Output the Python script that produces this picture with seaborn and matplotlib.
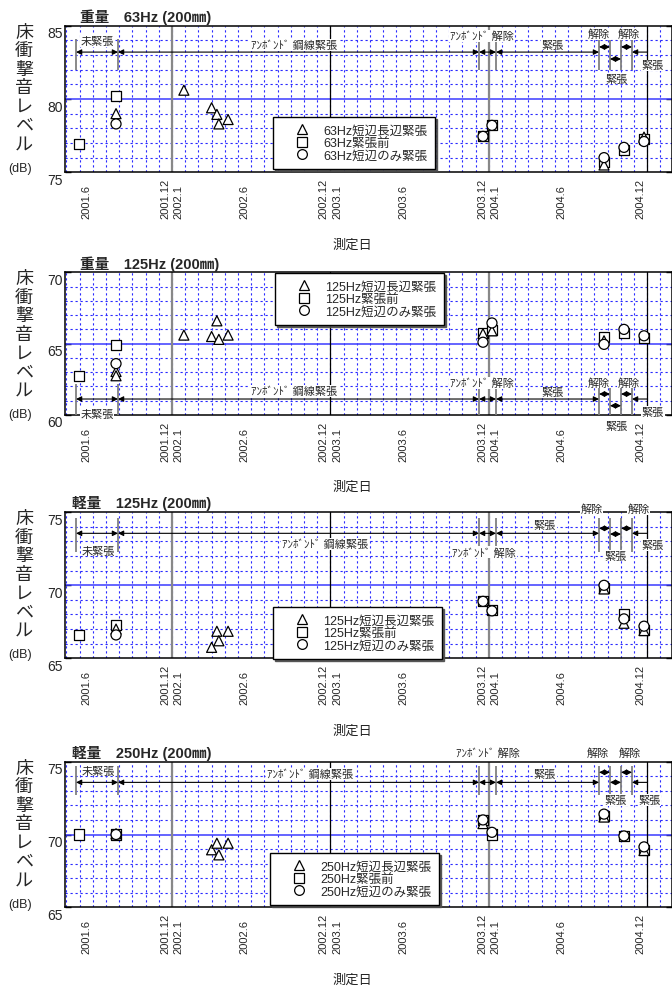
import pandas as pd
import seaborn as sns
import matplotlib.pyplot as plt
from matplotlib.lines import Line2D
from matplotlib.transforms import ScaledTranslation

# 測定日は 2001.1 からの月数 (12 = 2002.1, 24 = 2003.1 ...)
# 重量 63Hz
h63_sq_date = [4.95, 7.76, 35.56, 36.24, 44.73, 46.24, 47.76]
h63_sq_db = [76.9, 80.2, 77.45, 78.25, 75.7, 76.5, 77.3]
h63_tri_date = [7.76, 12.9, 15.0, 15.4, 15.55, 16.25, 44.73, 47.76]
h63_tri_db = [79.0, 80.6, 79.4, 78.95, 78.3, 78.6, 75.5, 77.4]
h63_cir_date = [7.76, 35.56, 36.24, 44.73, 46.24, 47.76]
h63_cir_db = [78.3, 77.45, 78.2, 76.0, 76.7, 77.1]

# 重量 125Hz
h125_sq_date = [4.95, 7.76, 35.56, 36.24, 44.73, 46.24, 47.76]
h125_sq_db = [62.7, 64.9, 65.75, 65.95, 65.45, 65.75, 65.4]
h125_tri_date = [7.76, 7.76, 12.9, 15.0, 15.4, 15.55, 16.25, 35.56, 36.24, 44.73]
h125_tri_db = [63.05, 62.75, 65.6, 65.5, 66.6, 65.3, 65.6, 65.7, 65.9, 65.2]
h125_cir_date = [7.76, 35.56, 36.24, 44.73, 46.24, 47.76]
h125_cir_db = [63.6, 65.1, 66.45, 64.95, 66.0, 65.55]

# 軽量 125Hz
l125_sq_date = [4.95, 7.76, 35.56, 36.24, 44.73, 46.24, 47.76]
l125_sq_db = [66.6, 67.3, 68.95, 68.3, 69.8, 68.0, 66.95]
l125_tri_date = [7.76, 15.0, 15.4, 15.55, 16.25, 44.73, 46.24, 47.76]
l125_tri_db = [67.0, 65.75, 66.85, 66.2, 66.85, 69.75, 67.4, 66.9]
l125_cir_date = [7.76, 35.56, 36.24, 44.73, 46.24, 47.76]
l125_cir_db = [66.6, 68.9, 68.25, 70.0, 67.7, 67.2]

# 軽量 250Hz
l250_sq_date = [4.95, 7.76, 35.56, 36.24, 44.73, 46.24, 47.76]
l250_sq_db = [70.0, 70.0, 71.0, 70.0, 71.3, 69.9, 68.95]
l250_tri_date = [7.76, 15.0, 15.4, 15.55, 16.25, 35.56, 44.73, 47.76]
l250_tri_db = [70.05, 68.95, 69.4, 68.6, 69.4, 70.75, 71.2, 68.9]
l250_cir_date = [7.76, 35.56, 36.24, 44.73, 46.24, 47.76]
l250_cir_db = [70.0, 71.0, 70.15, 71.4, 69.9, 69.15]

date_ticks = [5.5, 11.5, 12.5, 17.5, 23.5, 24.5, 29.5, 35.5, 36.5, 41.5, 47.5]
date_labels = ['2001.6', '2001.12', '2002.1', '2002.6', '2002.12', '2003.1',
               '2003.6', '2003.12', '2004.1', '2004.6', '2004.12']

# 緊張状態の切り替え時期
event_dates = [4.73, 7.91, 35.26, 36.55, 44.35, 45.18, 46.02, 46.85, 47.98]
period_labels = ['未緊張', 'ｱﾝﾎﾞﾝﾄﾞ 鋼線緊張', 'ｱﾝﾎﾞﾝﾄﾞ 解除', '緊張',
                 '解除', '緊張', '解除', '緊張']

# ラベル位置 (x, y)
pos_h63 = [(6.32, 83.96), (21.24, 83.7), (35.45, 84.3), (40.86, 83.7),
           (44.35, 84.43), (45.7, 81.37), (46.6, 84.43), (48.44, 82.3)]
pos_h125 = [(6.32, 60.07), (21.24, 61.7), (35.45, 62.24), (40.86, 61.6),
            (44.35, 62.3), (45.7, 59.25), (46.6, 62.3), (48.44, 60.23)]
pos_l125 = [(6.4, 72.37), (23.6, 72.83), (35.67, 72.26), (40.26, 74.13),
            (43.8, 75.23), (45.64, 72.03), (47.33, 75.23), (48.4, 72.76)]
pos_l250 = [(6.4, 74.38), (22.45, 74.16), (35.9, 75.65), (40.26, 74.16),
            (44.27, 75.65), (45.64, 72.37), (46.7, 75.65), (48.17, 72.37)]

W, H = 672, 987
sns.set_style('white')
plt.rcParams['font.family'] = ['Liberation Sans', 'Noto Sans CJK JP']

fig = plt.figure(figsize=(W / 100, H / 100), dpi=100)

BLUE = '#2a2aff'


def make_df(freq, sq_d, sq_v, tri_d, tri_v, cir_d, cir_v):
    parts = []
    for kind, d, v in [(freq + '緊張前', sq_d, sq_v),
                       (freq + '短辺長辺緊張', tri_d, tri_v),
                       (freq + '短辺のみ緊張', cir_d, cir_v)]:
        parts.append(pd.DataFrame({'date': d, 'level': v, 'kind': kind}))
    return pd.concat(parts, ignore_index=True)


def draw_panel(df, freq, title, title_px, top, bottom, ylim, leg_px,
               rows, bars, label_pos):
    ax = fig.add_axes([65 / W, 1 - bottom / H, (W - 65) / W, (bottom - top) / H])
    ax.set_xlim(3.894, 49.88)
    ax.set_ylim(*ylim)
    mid = (ylim[0] + ylim[1]) / 2

    # grid
    ax.set_xticks(range(4, 50), minor=True)
    ax.set_yticks(range(ylim[0], ylim[1] + 1), minor=True)
    ax.set_yticks([ylim[0], mid, ylim[1]], labels=[str(ylim[0]), str(int(mid)), str(ylim[1])])
    ax.set_xticks(date_ticks, labels=date_labels, rotation=90, va='bottom', fontsize=8)
    ax.grid(False)
    ax.grid(which='minor', color=BLUE, linestyle=(0, (2, 2.5)), linewidth=0.8)
    ax.set_axisbelow(True)
    ax.axhline(mid, color='#3b3bff', lw=1.1, zorder=1)
    for yr in [12, 36]:
        ax.axvline(yr, color='#888888', lw=1.6, zorder=2)
    for yr in [24, 48]:
        ax.axvline(yr, color='black', lw=0.9, zorder=2)
    for s in ax.spines.values():
        s.set_color('black')
        s.set_linewidth(1.1)

    ax.tick_params(axis='y', which='major', direction='in', length=4.5, width=1,
                   left=True, right=True, labelsize=10, pad=1.5, color='black')
    ax.tick_params(axis='y', which='minor', length=0)
    ax.tick_params(axis='x', which='both', length=0, pad=33)
    for lab in ax.get_yticklabels():
        lab.set_transform(lab.get_transform() + ScaledTranslation(0, -0.06, fig.dpi_scale_trans))

    # 期間の矢印
    y_main, y_rel, y_ten = rows
    ax.vlines(event_dates[:8], bars[0], bars[1], colors='#808080', lw=1.3, zorder=3)
    seg_y = [y_main, y_main, y_main, y_main, y_rel, y_ten, y_rel, y_main]
    for i in range(8):
        style = '<|-|>' if i < 7 else '<|-'
        ax.annotate('', xy=(event_dates[i + 1], seg_y[i]), xytext=(event_dates[i], seg_y[i]),
                    arrowprops=dict(arrowstyle=style, color='black', lw=0.8,
                                    shrinkA=0, shrinkB=0, mutation_scale=8),
                    zorder=4)
    for txt, (x, y) in zip(period_labels, label_pos):
        ax.text(x, y, txt, ha='center', va='center', fontsize=8, zorder=4,
                bbox=dict(fc='white', ec='none', pad=0.4))

    # 測定値
    sns.scatterplot(data=df, x='date', y='level', style='kind',
                    markers={freq + '緊張前': 's', freq + '短辺長辺緊張': '^',
                             freq + '短辺のみ緊張': 'o'},
                    color='white', edgecolor='black', linewidth=0.9, s=52,
                    legend=False, ax=ax, zorder=5, clip_on=False)
    ax.set_xlabel('')
    ax.set_ylabel('')

    handles = [Line2D([], [], marker=m, ls='none', mfc='white', mec='black', ms=7, mew=0.9)
               for m in ['^', 's', 'o']]
    labels = [freq + '短辺長辺緊張', freq + '緊張前', freq + '短辺のみ緊張']
    lx = (leg_px[0] - 65) / (W - 65)
    ly = 1 - (leg_px[1] - top) / (bottom - top)
    leg = ax.legend(handles, labels, loc='upper left', bbox_to_anchor=(lx, ly),
                    borderaxespad=0, fontsize=9, frameon=True, fancybox=False,
                    edgecolor='black', framealpha=1, handlelength=3.4, handletextpad=0.0,
                    borderpad=0.6, labelspacing=0.05,
                    shadow={'ox': 1.5, 'oy': -1.5, 'alpha': 0.9})
    leg.get_frame().set_linewidth(1.0)
    leg.set_zorder(10)

    # タイトル・軸ラベル
    ax.text((title_px - 65) / (W - 65), 1, title, transform=ax.transAxes +
            ScaledTranslation(0, 0.095, fig.dpi_scale_trans),
            ha='left', va='center', fontsize=10.5, fontweight='bold')
    ax.text(0.474, 0, '測定日', transform=ax.transAxes +
            ScaledTranslation(0, -0.72, fig.dpi_scale_trans),
            ha='center', va='center', fontsize=9.5)
    for k, ch in enumerate('床衝撃音レベル'):
        fig.text(24 / W, 1 - (top + 6 + k * 18.6) / H, ch, ha='center', va='center',
                 fontsize=13, family='Noto Sans CJK JP')
    fig.text(20 / W, 1 - (top + 142) / H, '(dB)', ha='center', va='center', fontsize=9)


draw_panel(make_df('63Hz', h63_sq_date, h63_sq_db, h63_tri_date, h63_tri_db,
                   h63_cir_date, h63_cir_db),
           '63Hz', '重量\u300063Hz (200㎜)', 80, 26.7, 173.3, (75, 85), (273, 118),
           (83.2, 83.55, 82.73), (82.0, 84.1), pos_h63)
draw_panel(make_df('125Hz', h125_sq_date, h125_sq_db, h125_tri_date, h125_tri_db,
                   h125_cir_date, h125_cir_db),
           '125Hz', '重量\u3000125Hz (200㎜)', 80, 273.3, 416, (60, 70), (275, 274),
           (61.12, 61.47, 60.65), (60.0, 62.2), pos_h125)
draw_panel(make_df('125Hz', l125_sq_date, l125_sq_db, l125_tri_date, l125_tri_db,
                   l125_cir_date, l125_cir_db),
           '125Hz', '軽量\u3000125Hz (200㎜)', 72, 513.3, 659.3, (65, 75), (273, 608),
           (73.56, 73.9, 73.51), (72.3, 74.6), pos_l125)
draw_panel(make_df('250Hz', l250_sq_date, l250_sq_db, l250_tri_date, l250_tri_db,
                   l250_cir_date, l250_cir_db),
           '250Hz', '軽量\u3000250Hz (200㎜)', 72, 762.7, 908.3, (65, 75), (270, 854),
           (73.58, 74.27, 73.58), (72.7, 74.7), pos_l250)

fig.savefig('out.png', dpi=100)
